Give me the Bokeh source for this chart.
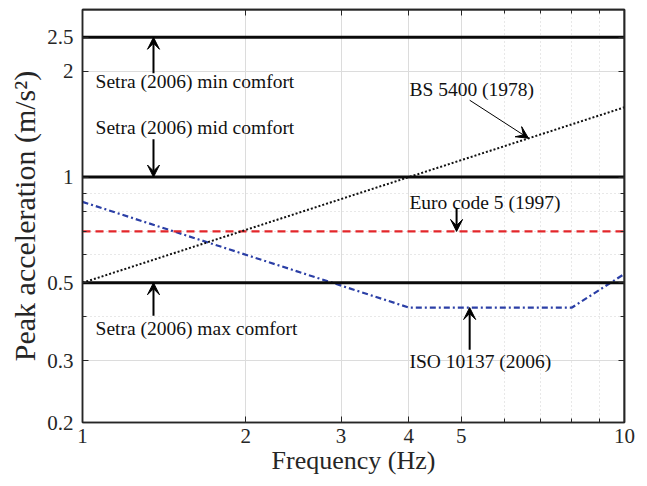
from bokeh.plotting import figure
from bokeh.models import (Range1d, FixedTicker, LogAxis, CustomJSTickFormatter,
                          Label, Arrow, VeeHead)
from bokeh.embed import file_html
from bokeh.resources import INLINE

# ---- data ----
x_lim = [1, 10]
y_lim = [0.2, 3.0]
freq_span = [1, 10]
setra_levels = [2.5, 1.0, 0.5]           # min / mid / max comfort
bs5400_freq = [1, 10]
bs5400_acc = [0.5, 1.58]
euro_freq = [1, 10]
euro_acc = [0.7, 0.7]
iso_freq = [1, 4, 8, 10]
iso_acc = [0.85, 0.425, 0.425, 0.53]

x_ticks = [1, 2, 3, 4, 5, 10]
x_minor = [6, 7, 8, 9]
y_ticks = [0.2, 0.3, 0.5, 1, 2, 2.5]
y_minor = [0.4, 0.6, 0.7, 0.8, 0.9]

notes = ["Setra (2006) min comfort", "Setra (2006) mid comfort", "Setra (2006) max comfort",
         "BS 5400 (1978)", "Euro code 5 (1997)", "ISO 10137 (2006)"]
note_x = [1.057, 1.057, 1.057, 4.01, 4.01, 4.01]
note_y = [1.874, 1.387, 0.370, 1.778, 0.844, 0.298]

arrow_x0 = [1.352, 1.352, 1.352, 5.18, 4.90, 5.18]
arrow_y0 = [1.975, 1.282, 0.403, 1.655, 0.816, 0.3225]
arrow_x1 = [1.352, 1.352, 1.352, 6.65, 4.90, 5.18]
arrow_y1 = [2.5, 1.0, 0.5, 1.29, 0.70, 0.425]
arrow_w = [2, 2, 2, 1, 2, 2]

FONT = "Liberation Serif"
AX = "#262626"

p = figure(width=647, height=486, x_axis_type="log", y_axis_type="log",
           x_range=Range1d(*x_lim), y_range=Range1d(*y_lim),
           output_backend="svg", toolbar_location=None,
           min_border_left=82, min_border_right=23, min_border_top=9, min_border_bottom=64)
p.background_fill_color = "white"
p.border_fill_color = "white"
p.outline_line_color = AX
p.outline_line_width = 1.5

xt = FixedTicker(ticks=x_ticks, minor_ticks=x_minor)
yt = FixedTicker(ticks=y_ticks, minor_ticks=y_minor)
fmt = CustomJSTickFormatter(code="return tick.toString();")

for ax, t in ((p.xaxis[0], xt), (p.yaxis[0], yt)):
    ax.ticker = t
    ax.formatter = fmt
    ax.major_tick_in = 6
    ax.major_tick_out = 0
    ax.minor_tick_in = 4
    ax.minor_tick_out = 0
    ax.axis_line_color = AX
    ax.axis_line_width = 1.5
    ax.major_tick_line_color = AX
    ax.minor_tick_line_color = AX
    ax.major_label_text_font = FONT
    ax.major_label_text_font_size = "21px"
    ax.major_label_text_color = AX
    ax.axis_label_text_font = FONT
    ax.axis_label_text_font_style = "normal"
    ax.axis_label_text_color = AX
p.xaxis.major_label_standoff = 6
p.yaxis.major_label_standoff = 9
p.xaxis.axis_label = "Frequency (Hz)"
p.xaxis.axis_label_text_font_size = "26px"
p.xaxis.axis_label_standoff = 0
p.yaxis.axis_label = "Peak acceleration (m/s²)"
p.yaxis.axis_label_text_font_size = "30px"
p.yaxis.axis_label_standoff = 3

for loc, t in (("right", yt), ("above", xt)):
    a = LogAxis(ticker=t, formatter=fmt,
                major_tick_in=6, major_tick_out=0, minor_tick_in=4, minor_tick_out=0,
                major_label_standoff=0, major_label_text_font_size="1px",
                major_label_text_alpha=0,
                axis_line_color=AX, axis_line_width=1.5,
                major_tick_line_color=AX, minor_tick_line_color=AX)
    p.add_layout(a, loc)

for g, t in ((p.xgrid[0], xt), (p.ygrid[0], yt)):
    g.ticker = t
    g.grid_line_color = "#dcdcdc"
    g.grid_line_width = 1
    g.minor_grid_line_color = "#d0d0d0"
    g.minor_grid_line_dash = "1 3"
    g.minor_grid_line_width = 1

# ---- curves ----
p.line(iso_freq, iso_acc, line_color="#2b3fa6", line_width=2.2, line_dash="6 3 2 3")
p.line(euro_freq, euro_acc, line_color="#e3262a", line_width=2.2, line_dash="8 5")
p.line(bs5400_freq, bs5400_acc, line_color="#111111", line_width=2, line_dash="2 2")
for lv in setra_levels:
    p.line(freq_span, [lv, lv], line_color="#0a0a0a", line_width=3)

# frame box (top and right edges of the axes box)
p.line(x_lim, [y_lim[1], y_lim[1]], line_color=AX, line_width=2)
p.line([x_lim[1], x_lim[1]], y_lim, line_color=AX, line_width=2)

# ---- annotations ----
for t, x, y in zip(notes, note_x, note_y):
    p.add_layout(Label(x=x, y=y, text=t, text_font=FONT, text_font_size="19.5px",
                       text_color="#111111", text_align="left", text_baseline="middle"))
for x0, y0, x1, y1, w in zip(arrow_x0, arrow_y0, arrow_x1, arrow_y1, arrow_w):
    p.add_layout(Arrow(x_start=x0, y_start=y0, x_end=x1, y_end=y1, line_width=w,
                       line_color="black",
                       end=VeeHead(size=12, line_color="black", fill_color="black", line_width=1)))

open("out.html", "w").write(file_html(p, INLINE))
